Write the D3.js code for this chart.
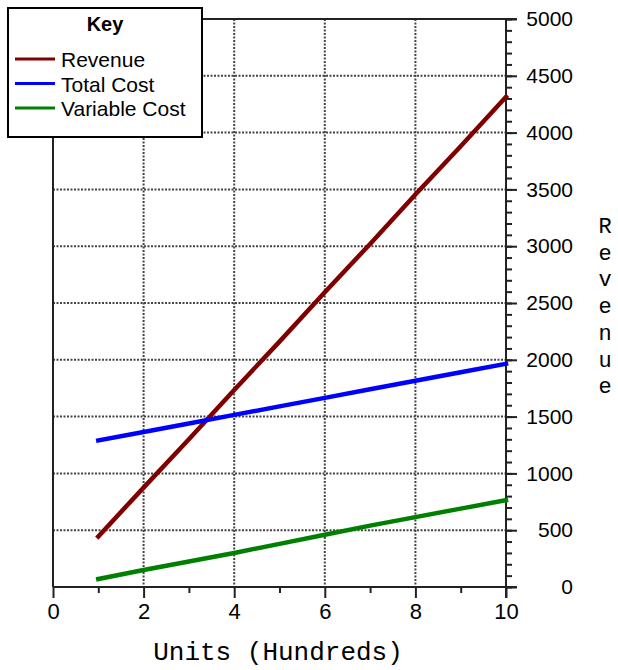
<!DOCTYPE html>
<html>
<head>
<meta charset="utf-8">
<script src="https://cdn.jsdelivr.net/npm/d3@7"></script>
<style>
  body { margin: 0; background: #fff; }
  svg { display: block; }
</style>
</head>
<body>
<script>
// values
var units = [1, 2, 3, 4, 5, 6, 7, 8, 9, 10];
var revenue = [445, 875, 1300, 1735, 2160, 2595, 3020, 3455, 3880, 4315];
var totalCost = [1290, 1365, 1440, 1515, 1590, 1665, 1740, 1815, 1890, 1965];
var variableCost = [70, 150, 225, 300, 380, 460, 540, 615, 690, 765];

var xTicks = [0, 2, 4, 6, 8, 10];
var xMinor = [1, 3, 5, 7, 9];
var yTicks = [0, 500, 1000, 1500, 2000, 2500, 3000, 3500, 4000, 4500, 5000];
var yMinor = d3.range(0, 5001, 100);

var seriesNames = ["Revenue", "Total Cost", "Variable Cost"];
var seriesColors = ["#800000", "#0000ff", "#008000"];
var seriesValues = [revenue, totalCost, variableCost];

var W = 618, H = 670;
var x = d3.scaleLinear().domain([0, 10]).range([53, 506]);
var y = d3.scaleLinear().domain([0, 5000]).range([587, 19]);

var svg = d3.select("body").append("svg")
    .attr("width", W)
    .attr("height", H);

var sans = "'Liberation Sans', Arial, sans-serif";
var mono = "'Liberation Mono', 'Courier New', Courier, 'Nimbus Mono PS', FreeMono, 'DejaVu Sans Mono', monospace";
var axisColor = "#222";

// dotted grid
svg.append("g").selectAll("line")
    .data(yTicks.slice(1, -1))
  .enter().append("line")
    .attr("x1", x(0)).attr("x2", x(10))
    .attr("y1", function(d) { return y(d); })
    .attr("y2", function(d) { return y(d); })
    .attr("stroke", "#444")
    .attr("stroke-width", 2)
    .attr("stroke-dasharray", "2,1.5");

svg.append("g").selectAll("line")
    .data(xTicks.slice(1, -1))
  .enter().append("line")
    .attr("y1", y(5000)).attr("y2", y(0))
    .attr("x1", function(d) { return x(d); })
    .attr("x2", function(d) { return x(d); })
    .attr("stroke", "#444")
    .attr("stroke-width", 2)
    .attr("stroke-dasharray", "2,1.5");

// frame: top and left
svg.append("line")
    .attr("x1", x(0)).attr("x2", x(10) + 11)
    .attr("y1", y(5000)).attr("y2", y(5000))
    .attr("stroke", axisColor).attr("stroke-width", 2);
svg.append("line")
    .attr("x1", x(0)).attr("x2", x(0))
    .attr("y1", y(5000)).attr("y2", y(0))
    .attr("stroke", axisColor).attr("stroke-width", 2);

// y axis on the right
var yAxisMinor = d3.axisRight(y).tickValues(yMinor).tickSize(6).tickFormat("");
var gyMinor = svg.append("g")
    .attr("transform", "translate(" + x(10) + ",0)")
    .call(yAxisMinor);
gyMinor.select(".domain").remove();
gyMinor.selectAll("line").attr("stroke", axisColor).attr("stroke-width", 2);

var yAxis = d3.axisRight(y).tickValues(yTicks).tickSize(11).tickPadding(0)
    .tickFormat(d3.format("d"));
var gy = svg.append("g")
    .attr("transform", "translate(" + x(10) + ",0)")
    .call(yAxis);
gy.select(".domain").remove();
gy.selectAll("line").attr("stroke", axisColor).attr("stroke-width", 2);
gy.selectAll("text")
    .attr("x", 573 - x(10))
    .attr("text-anchor", "end")
    .attr("dy", "0.32em")
    .attr("fill", "#000")
    .style("font-family", sans)
    .style("font-size", "21px");

// x axis at the bottom
var xAxisMinor = d3.axisBottom(x).tickValues(xMinor).tickSize(6).tickFormat("");
var gxMinor = svg.append("g")
    .attr("transform", "translate(0," + y(0) + ")")
    .call(xAxisMinor);
gxMinor.select(".domain").remove();
gxMinor.selectAll("line").attr("stroke", axisColor).attr("stroke-width", 2);

var xAxis = d3.axisBottom(x).tickValues(xTicks).tickSize(11).tickPadding(5);
var gx = svg.append("g")
    .attr("transform", "translate(0," + y(0) + ")")
    .call(xAxis);
gx.select(".domain").remove();
gx.selectAll("line").attr("stroke", axisColor).attr("stroke-width", 2);
gx.selectAll("text")
    .attr("y", 16)
    .attr("fill", "#000")
    .style("font-family", sans)
    .style("font-size", "22px");

// axis lines
svg.append("line")
    .attr("x1", x(0)).attr("x2", x(10) + 11)
    .attr("y1", y(0)).attr("y2", y(0))
    .attr("stroke", axisColor).attr("stroke-width", 2);
svg.append("line")
    .attr("x1", x(10)).attr("x2", x(10))
    .attr("y1", y(5000)).attr("y2", y(0) + 11)
    .attr("stroke", axisColor).attr("stroke-width", 2);

// data lines
var line = d3.line()
    .x(function(d, i) { return x(units[i]); })
    .y(function(d) { return y(d); });

seriesValues.forEach(function(vals, i) {
  svg.append("path")
      .datum(vals)
      .attr("d", line)
      .attr("fill", "none")
      .attr("stroke", seriesColors[i])
      .attr("stroke-width", 4.5)
      .attr("stroke-linecap", "square");
});

// axis titles
svg.append("text")
    .attr("x", 278)
    .attr("y", 660)
    .attr("text-anchor", "middle")
    .style("font-family", mono)
    .style("font-size", "26px")
    .text("Units (Hundreds)");

var rTitle = "Revenue".split("");
svg.append("g").selectAll("text")
    .data(rTitle)
  .enter().append("text")
    .attr("x", 605)
    .attr("y", function(d, i) { return 233 + i * 26.7; })
    .attr("text-anchor", "middle")
    .style("font-family", mono)
    .style("font-size", "22px")
    .text(function(d) { return d; });

// legend
var legend = svg.append("g");
legend.append("rect")
    .attr("x", 8).attr("y", 8)
    .attr("width", 194).attr("height", 129)
    .attr("fill", "#fff")
    .attr("stroke", "#000")
    .attr("stroke-width", 2);
legend.append("text")
    .attr("x", 105).attr("y", 31)
    .attr("text-anchor", "middle")
    .style("font-family", sans)
    .style("font-size", "20px")
    .style("font-weight", "bold")
    .text("Key");

var items = legend.selectAll(".item")
    .data(seriesNames)
  .enter().append("g")
    .attr("class", "item")
    .attr("transform", function(d, i) { return "translate(0," + (59 + i * 24.5) + ")"; });
items.append("line")
    .attr("x1", 15).attr("x2", 55)
    .attr("y1", 0).attr("y2", 0)
    .attr("stroke", function(d, i) { return seriesColors[i]; })
    .attr("stroke-width", 3);
items.append("text")
    .attr("x", 61).attr("y", 8)
    .style("font-family", sans)
    .style("font-size", "21px")
    .text(function(d) { return d; });
</script>
</body>
</html>
